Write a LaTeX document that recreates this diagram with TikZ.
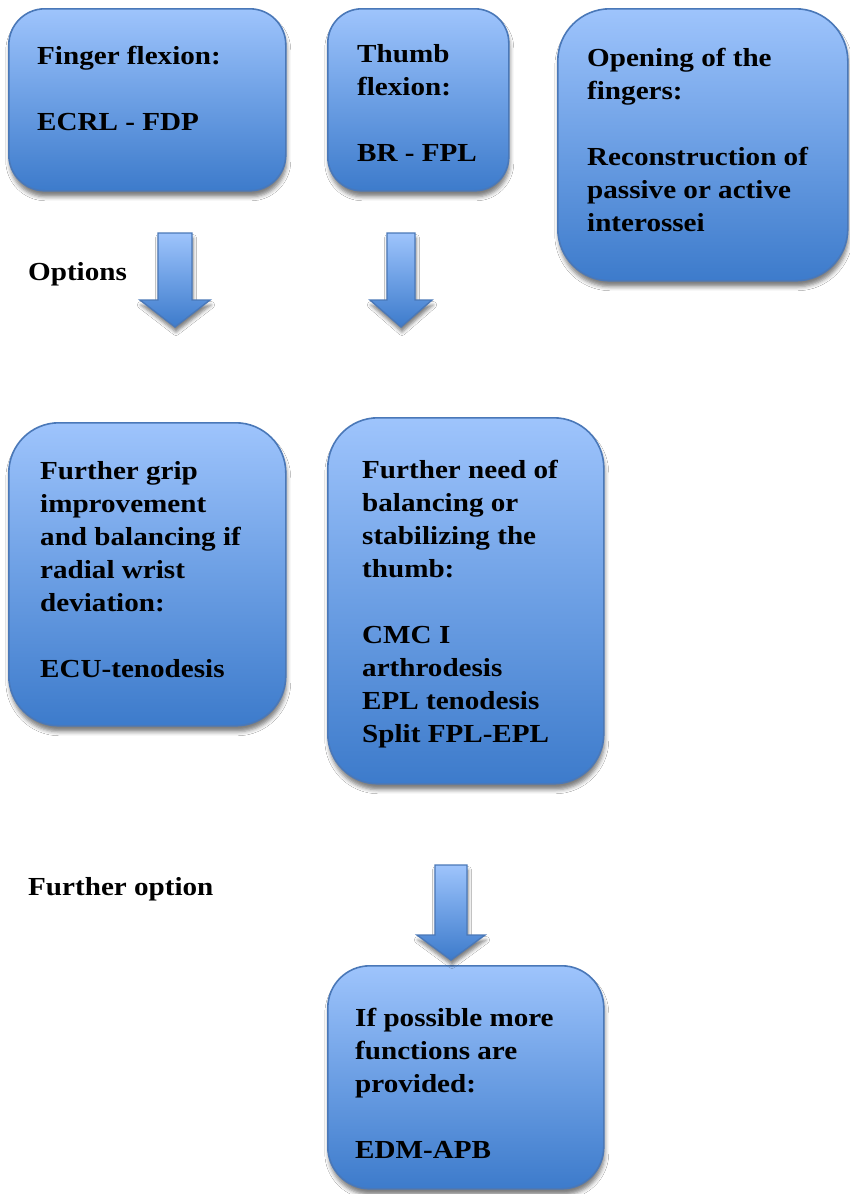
\documentclass[tikz,border=0pt]{standalone}
\usepackage{fontspec}
\setmainfont{Liberation Serif}[FakeStretch=1.12]
\usetikzlibrary{shadows.blur,calc}
\definecolor{boxtop}{HTML}{9EC4FC}
\definecolor{boxmid}{HTML}{6C9FE4}
\definecolor{boxbot}{HTML}{3D7BCB}
\definecolor{boxline}{HTML}{4A78B8}
\tikzset{
  box/.style={draw=boxline, line width=1.6pt, top color=boxtop, bottom color=boxbot, middle color=boxmid,
    anchor=north west, inner sep=0pt,
    blur shadow={shadow xshift=1pt, shadow yshift=-6pt, shadow blur radius=4pt, shadow opacity=50}},
  txt/.style={anchor=north west, align=left, inner sep=0pt, font=\fontsize{26}{33}\selectfont\bfseries},
  arrowshape/.style={draw=boxline, line width=1.4pt, top color=boxtop, bottom color=boxbot, middle color=boxmid,
    blur shadow={shadow xshift=1pt, shadow yshift=-5pt, shadow blur radius=3.5pt, shadow opacity=50}}
}
\begin{document}
\begin{tikzpicture}[x=1pt,y=-1pt]
\useasboundingbox[fill=white] (0,0) rectangle (850,1194);
% boxes
\node[box, minimum width=277pt, minimum height=182pt, rounded corners=36pt] (b1) at (8,8) {};
\node[box, minimum width=181pt, minimum height=182pt, rounded corners=34pt] (b2) at (327,8) {};
\node[box, minimum width=290pt, minimum height=272pt, rounded corners=52pt] (b3) at (557,8) {};
\node[box, minimum width=277pt, minimum height=303pt, rounded corners=50pt] (b4) at (8,422) {};
\node[box, minimum width=276pt, minimum height=366pt, rounded corners=50pt] (b5) at (327,417) {};
\node[box, minimum width=276pt, minimum height=223pt, rounded corners=42pt] (b6) at (327,965) {};
% texts (first-line baseline minus ascender)
\node[txt] (t1) at (37,45.5) {Finger flexion:\\[33pt]ECRL - FDP};
\node[txt] (t2) at (357,44.5) {Thumb\\flexion:\\[33pt]BR - FPL};
\node[txt] (t3) at (587,47.5) {Opening of the\\fingers:\\[33pt]Reconstruction of\\passive or active\\interossei};
\node[txt] (t4) at (40,461.5) {Further grip\\improvement\\and balancing if\\radial wrist\\deviation:\\[33pt]ECU-tenodesis};
\node[txt] (t5) at (362,459.5) {Further need of\\balancing or\\stabilizing the\\thumb:\\[33pt]CMC I\\arthrodesis\\EPL tenodesis\\Split FPL-EPL};
\node[txt] (t6) at (355,1007.5) {If possible more\\functions are\\provided:\\[33pt]EDM-APB};
\node[txt] (opt) at (28,262.5) {Options};
\node[txt] (fopt) at (28,877.5) {Further option};
% block arrows
\coordinate (a1) at (175,233);
\coordinate (a2) at (401,233);
\coordinate (a3) at (451,865);
\draw[arrowshape] (a1) ++(-17,0) -- ++(34,0) -- ++(0,67) -- ++(18,0) -- ++(-35,27) -- ++(-35,-27) -- ++(18,0) -- cycle;
\draw[arrowshape] (a2) ++(-14,0) -- ++(28,0) -- ++(0,67) -- ++(17,0) -- ++(-31,27) -- ++(-31,-27) -- ++(17,0) -- cycle;
\draw[arrowshape] (a3) ++(-16,0) -- ++(32,0) -- ++(0,70) -- ++(18,0) -- ++(-34,25) -- ++(-34,-25) -- ++(18,0) -- cycle;
\end{tikzpicture}
\end{document}
